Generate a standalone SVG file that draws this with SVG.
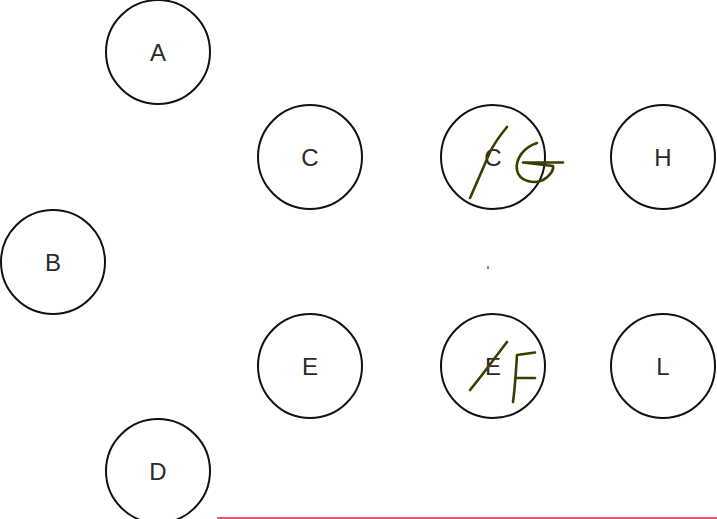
<svg xmlns="http://www.w3.org/2000/svg" width="717" height="519" viewBox="0 0 717 519">
<style>
.n circle{fill:#fff;stroke:#111;stroke-width:2}
.n text{font-family:"Liberation Sans",Arial,sans-serif;font-size:24px;fill:#2a2a2a;text-anchor:middle;dominant-baseline:central}
.ink{fill:none;stroke:#3d3d00;stroke-width:2.6;stroke-linecap:round;stroke-linejoin:round}
</style>
<rect width="717" height="519" fill="#fff"/>
<g id="A" class="n"><circle cx="158" cy="52" r="52"/><text x="158" y="52">A</text></g>
<g id="C" class="n"><circle cx="310" cy="157" r="52"/><text x="310" y="157">C</text></g>
<g id="B" class="n"><circle cx="53" cy="262" r="52"/><text x="53" y="262">B</text></g>
<g id="E" class="n"><circle cx="310" cy="366" r="52"/><text x="310" y="366">E</text></g>
<g id="D" class="n"><circle cx="158" cy="471" r="52"/><text x="158" y="471">D</text></g>
<g id="C2" class="n"><circle cx="493" cy="157" r="52"/><text x="493" y="157">C</text></g>
<g id="H" class="n"><circle cx="663" cy="157" r="52"/><text x="663" y="157">H</text></g>
<g id="E2" class="n"><circle cx="493" cy="366" r="52"/><text x="493" y="366">E</text></g>
<g id="L" class="n"><circle cx="663" cy="366" r="52"/><text x="663" y="366">L</text></g>
<g id="connectors"></g>
<g id="annotations">
<path class="ink" d="M470,198 C478,180 484,166 490,152 C495,142 502,133 507,127"/>
<path class="ink" d="M537,143 C524,147 515,159 517,170 C519,182 535,184 543,180 C550,176 554,170 553,166 L523,162.5 L563,162.5"/>
<path class="ink" d="M470,390 C482,376 496,356 507,342"/>
<path class="ink" d="M535,352.5 L517,355 C516,370 515,388 513,402 M517,378 L535,378"/>
<rect x="487" y="266" width="2" height="3" fill="#888"/>
<line x1="217" y1="518" x2="717" y2="518" stroke="#c8283c" stroke-width="1.5"/>
</g>
</svg>
